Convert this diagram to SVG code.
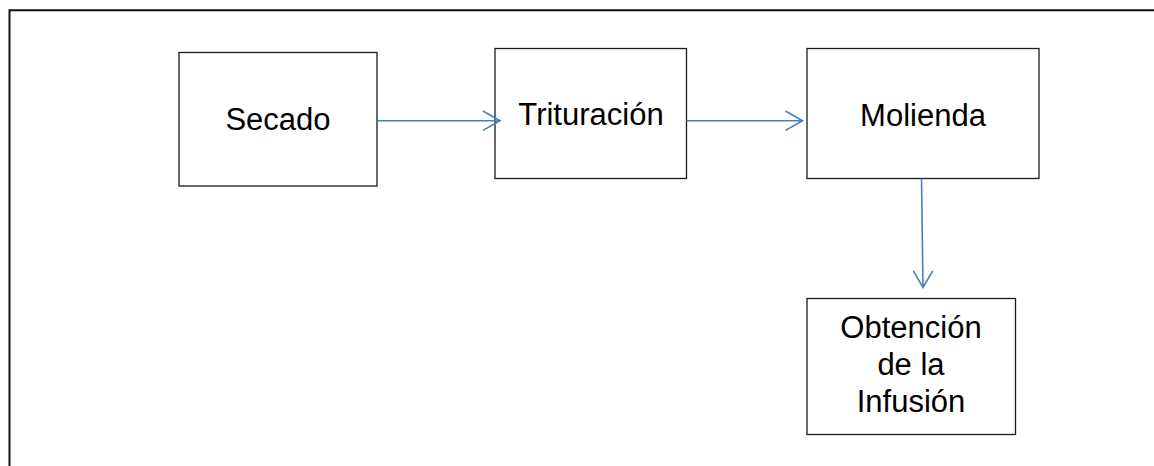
<svg xmlns="http://www.w3.org/2000/svg" width="1154" height="466" viewBox="0 0 1154 466">
<style>
.box{fill:#fff;stroke:#1a1a1a;stroke-width:1.3}
.lbl{font-family:"Liberation Sans",Arial,sans-serif;font-size:31px;fill:#000;text-anchor:middle}
.con{stroke:#4a7ebb;stroke-width:1.6;fill:none}
.frame{stroke:#111;stroke-width:2;fill:none}
</style>
<rect width="1154" height="466" fill="#fff"/>
<path class="frame" d="M9.5,466 V10.3 H1154"/>
<g id="secado"><rect class="box" x="179" y="52.5" width="198" height="133.5"/><text class="lbl" x="278" y="130">Secado</text></g>
<g id="trituracion"><rect class="box" x="495" y="48.5" width="191.5" height="130"/><text class="lbl" x="591" y="125">Trituración</text></g>
<g id="molienda"><rect class="box" x="807" y="48.5" width="232" height="130"/><text class="lbl" x="923" y="126">Molienda</text></g>
<g id="obtencion"><rect class="box" x="807" y="298.5" width="208.5" height="136"/><text class="lbl" x="911" y="338">Obtención</text><text class="lbl" x="911" y="375">de la</text><text class="lbl" x="911" y="412">Infusión</text></g>
<g id="connectors">
<path class="con" d="M377,120.7 H500 M483,111 L500,120.7 L483,130.4"/>
<path class="con" d="M686.5,120.7 H802.5 M785.5,111 L802.5,120.7 L785.5,130.4"/>
<path class="con" d="M921.5,178.5 L923,287.5 M913.3,270.8 L923,287.5 L932.7,270.8"/>
</g>
</svg>
